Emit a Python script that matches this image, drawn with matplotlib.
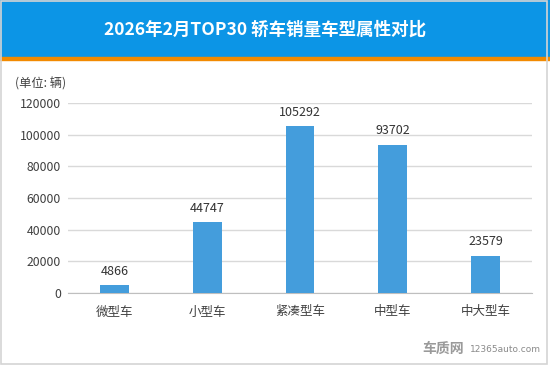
import matplotlib.pyplot as plt
from matplotlib.patches import Rectangle

plt.rcParams['font.family'] = ['Noto Sans CJK SC', 'DejaVu Sans']

categories = ["微型车", "小型车", "紧凑型车", "中型车", "中大型车"]
sales = [4866, 44747, 105292, 93702, 23579]
yticks = [0, 20000, 40000, 60000, 80000, 100000, 120000]
title = "2026年2月TOP30 轿车销量车型属性对比"

W, H = 550, 365
fig = plt.figure(figsize=(W / 100, H / 100), dpi=100)

# header band with orange underline
fig.patches.append(Rectangle((0, 1 - 57 / H), 1, 57 / H, transform=fig.transFigure,
                             color='#0c95e6', zorder=0))
fig.patches.append(Rectangle((0, 1 - 60 / H), 1, 3 / H, transform=fig.transFigure,
                             color='#f28a00', zorder=0))
fig.text(265 / W, 1 - 30 / H, title, ha='center', va='center', color='white',
         fontsize=12.6, fontweight='bold')

# light frame around the whole picture
fig.patches.append(Rectangle((1 / W, 1 / H), 1 - 4 / W, 1 - 2 / H, transform=fig.transFigure,
                             fill=False, edgecolor='#d4d4d4', linewidth=1.2, zorder=0))

ax = fig.add_axes([68 / W, 72 / H, 464 / W, 190 / H])
x = range(len(categories))
bars = ax.bar(x, sales, width=0.31, color='#449ddc', zorder=3)
for xi, v in zip(x, sales):
    ax.annotate(str(v), (xi, v), xytext=(0, 10), textcoords='offset points',
                ha='center', va='center', fontsize=9, color='#333333')

ax.set_xlim(-0.5, len(categories) - 0.5)
ax.set_ylim(0, 120000)
ax.set_yticks(yticks)
ax.set_yticklabels([str(t) for t in yticks])
ax.set_xticks(list(x))
ax.set_xticklabels(categories)
ax.grid(axis='y', color='#d9d9d9', linewidth=1, zorder=0)
for s in ['top', 'right', 'left']:
    ax.spines[s].set_visible(False)
ax.spines['bottom'].set_color('#bfbfbf')
ax.tick_params(axis='y', length=0, pad=5, labelsize=8.8, labelcolor='#404040')
ax.tick_params(axis='x', length=0, pad=9, labelsize=9, labelcolor='#404040')

fig.text(15 / W, 1 - 84 / H, "(单位: 辆)", ha='left', va='center', fontsize=8.8, color='#404040')

# watermark
fig.text(422 / W, 1 - 349 / H, "车质网", ha='left', va='center', fontsize=10,
         fontweight='bold', color='#9a9a9a')
fig.text(470 / W, 1 - 350 / H, "12365auto.com", ha='left', va='center', fontsize=6.5,
         color='#8a8a8a', family=['DejaVu Sans'])

fig.savefig("out.png", dpi=100)
